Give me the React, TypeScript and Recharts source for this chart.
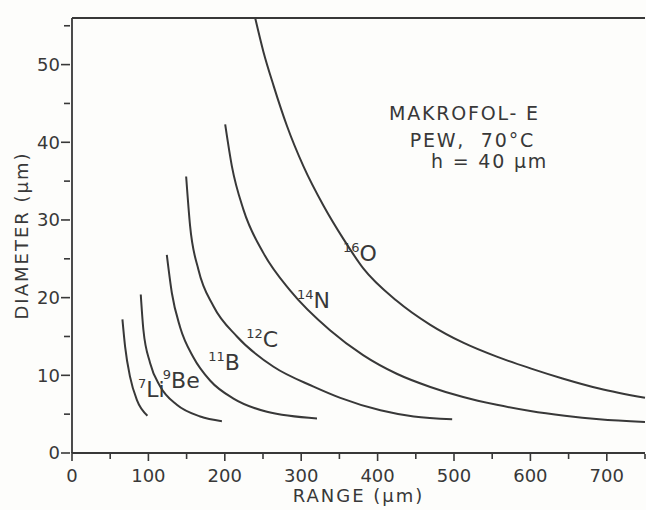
import React from 'react'
import { ComposedChart, Line, Scatter, XAxis, YAxis, Label } from 'recharts'

// range (µm) vs track diameter (µm)
const li7X = [66, 69.5, 76, 85, 98.7]
const li7Y = [17.2, 13.7, 9.8, 6.8, 4.8]
const be9X = [90, 93.4, 102.2, 115.3, 137.2, 167.8, 196.2]
const be9Y = [20.4, 15.9, 11.6, 8.6, 6.2, 4.7, 4.1]
const b11X = [124.1, 130.7, 141.5, 159, 181, 211.4, 255.2, 320.7]
const b11Y = [25.5, 20.6, 16.2, 12.3, 9.3, 7.0, 5.3, 4.45]
const c12X = [149.4, 154.6, 165.5, 185.2, 215.9, 263.8, 316.2, 351.2, 403.7, 447.3, 497.6]
const c12Y = [35.6, 29.2, 23.6, 18.9, 15.0, 11.1, 8.55, 7.1, 5.5, 4.7, 4.35]
const n14X = [200.5, 209.3, 224.5, 250.8, 285.7, 337.7, 381, 425, 469, 512, 556, 600, 645, 690, 750]
const n14Y = [42.3, 36.9, 31.3, 25.7, 20.9, 15.8, 12.6, 10.2, 8.5, 7.2, 6.2, 5.4, 4.8, 4.35, 4.0]
const o16X = [240, 250.7, 263.8, 281.4, 303, 329.4, 355.6, 381, 425, 469, 512, 556, 600, 642, 690, 750]
const o16Y = [55.9, 51.6, 47.3, 42.1, 36.9, 31.8, 27.5, 23.8, 19.6, 16.5, 14.2, 12.4, 10.9, 9.6, 8.3, 7.1]

const isoMass = ['7', '9', '11', '12', '14', '16']
const isoName = ['Li', 'Be', 'B', 'C', 'N', 'O']
const isoLabelX = [86.5, 118.9, 178.2, 228, 294.5, 354.8]
const isoLabelY = [7.26, 8.35, 10.7, 13.7, 18.7, 24.7]

const noteLines = ['MAKROFOL- E', 'PEW,  70°C', 'h = 40 μm']
const noteX = [415, 442, 470]
const noteY = [42.9, 39.4, 36.7]

const xTicks = [0, 50, 100, 150, 200, 250, 300, 350, 400, 450, 500, 550, 600, 650, 700, 750]
const yTicks = [0, 5, 10, 15, 20, 25, 30, 35, 40, 45, 50, 55]

const pts = (xs: number[], ys: number[]) => xs.map((x, i) => ({ x, y: ys[i] }))

const curves = [
  pts(li7X, li7Y),
  pts(be9X, be9Y),
  pts(b11X, b11Y),
  pts(c12X, c12Y),
  pts(n14X, n14Y),
  pts(o16X, o16Y),
]

const isoLabels = isoLabelX.map((x, i) => ({ x, y: isoLabelY[i], mass: isoMass[i], name: isoName[i] }))
const notes = noteX.map((x, i) => ({ x, y: noteY[i], text: noteLines[i] }))

const INK = '#383838'
const FONT = '"DejaVu Sans", sans-serif'

const LeftTick = (props: any) => {
  const { x, y, payload } = props
  const major = payload.value % 10 === 0
  return (
    <g>
      <line x1={x - (major ? 9 : 6)} x2={x} y1={y} y2={y} stroke={INK} strokeWidth={1.6} />
      {major && (
        <text x={x - 10} y={y} dy="0.36em" textAnchor="end" fill={INK} fontSize={18} fontFamily={FONT}>
          {payload.value}
        </text>
      )}
    </g>
  )
}

const BottomTick = (props: any) => {
  const { x, y, payload } = props
  const major = payload.value % 100 === 0
  return (
    <g>
      <line x1={x} x2={x} y1={major ? y - 3 : y - 1} y2={major ? y + 6 : y + 4} stroke={INK} strokeWidth={1.6} />
      {major && (
        <text x={x} y={y + 27} textAnchor="middle" fill={INK} fontSize={18} fontFamily={FONT}>
          {payload.value}
        </text>
      )}
    </g>
  )
}

const TopTick = (props: any) => {
  const { x, y, payload } = props
  const major = payload.value % 100 === 0
  return <line x1={x} x2={x} y1={y} y2={y - (major ? 8 : 5)} stroke={INK} strokeWidth={1.6} />
}

const IsoShape = (props: any) => {
  const { cx, cy, payload } = props
  return (
    <text x={cx} y={cy} fill={INK} fontFamily={FONT}>
      <tspan fontSize={13} dy={-9}>{payload.mass}</tspan>
      <tspan fontSize={22} dy={9}>{payload.name}</tspan>
    </text>
  )
}

const NoteShape = (props: any) => {
  const { cx, cy, payload } = props
  return (
    <text x={cx} y={cy} fill={INK} fontFamily={FONT} fontSize={19} letterSpacing={1.8} style={{ whiteSpace: 'pre' }}>
      {payload.text}
    </text>
  )
}

export default function App() {
  return (
    <div style={{ position: 'absolute', left: 0, top: 0, width: 646, height: 510, background: '#fdfdfb' }}>
      <ComposedChart width={646} height={510} margin={{ top: 0, right: 1, bottom: 0, left: 0 }}>
        <XAxis
          type="number"
          dataKey="x"
          domain={[0, 750]}
          ticks={xTicks}
          interval={0}
          height={57}
          tickSize={0}
          tickLine={false}
          tick={<BottomTick />}
          axisLine={{ stroke: INK, strokeWidth: 1.8 }}
        >
          <Label
            value="RANGE (μm)"
            position="insideBottom"
            offset={8}
            fill={INK}
            fontSize={18}
            fontFamily={FONT}
            letterSpacing={2}
          />
        </XAxis>
        <XAxis
          xAxisId="top"
          orientation="top"
          type="number"
          dataKey="x"
          domain={[0, 750]}
          ticks={xTicks}
          interval={0}
          height={18}
          tickSize={0}
          tickLine={false}
          tick={<TopTick />}
          axisLine={{ stroke: INK, strokeWidth: 1.8 }}
        />
        <YAxis
          type="number"
          domain={[0, 56]}
          ticks={yTicks}
          interval={0}
          width={72}
          tickSize={0}
          tickLine={false}
          tick={<LeftTick />}
          axisLine={{ stroke: INK, strokeWidth: 1.8 }}
        >
          <Label
            value="DIAMETER (μm)"
            angle={-90}
            position="insideLeft"
            offset={22}
            fill={INK}
            fontSize={18}
            fontFamily={FONT}
            letterSpacing={2}
            style={{ textAnchor: 'middle' }}
          />
        </YAxis>
        {curves.map((c, i) => (
          <Line
            key={i}
            data={c}
            dataKey="y"
            type="monotone"
            dot={false}
            stroke={INK}
            strokeWidth={2}
            isAnimationActive={false}
          />
        ))}
        <Scatter data={isoLabels} dataKey="y" shape={<IsoShape />} isAnimationActive={false} />
        <Scatter data={notes} dataKey="y" shape={<NoteShape />} isAnimationActive={false} />
      </ComposedChart>
    </div>
  )
}
